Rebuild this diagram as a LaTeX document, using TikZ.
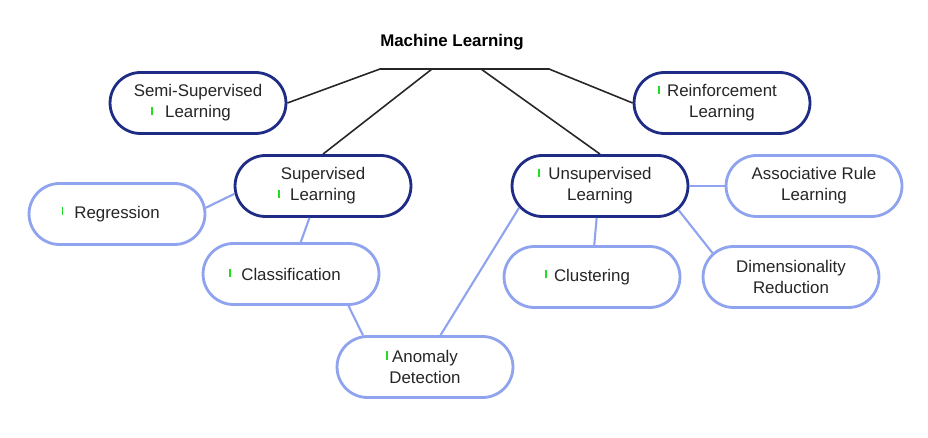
\documentclass[tikz,border=0pt]{standalone}
\usepackage{fontspec}
\setmainfont{Liberation Sans}
\usepackage{xcolor}
\usetikzlibrary{shapes.misc}
\definecolor{mlnavy}{HTML}{1F2C86}
\definecolor{mlblue}{HTML}{8FA3EE}
\definecolor{mlgreen}{HTML}{22DD22}
\newcommand{\gmark}[1]{\llap{\textcolor{mlgreen}{\rule[1.7pt]{1.1pt}{4.6pt}}\hspace{#1}}}

\begin{document}
\begin{tikzpicture}[
  x=0.02cm, y=-0.02cm,
  pill/.style={rounded rectangle, minimum width=3.66cm, minimum height=1.22cm, align=center, font=\fontsize{9.6}{12}\selectfont, text=black!85, line width=1.6pt, fill=white, inner sep=2pt},
  topbox/.style={pill, draw=mlnavy},
  subbox/.style={pill, draw=mlblue},
  tree/.style={line width=0.9pt, draw=black!85},
  link/.style={line width=1.2pt, draw=mlblue}
]
\useasboundingbox (0,0) rectangle (928,438);

% Title
\node[font=\fontsize{9.6}{12}\selectfont\bfseries] (ml) at (452,42) {Machine Learning};

% Main branches
\node[topbox] (semi) at (198,103) {Semi-Supervised\\\gmark{6.8pt}Learning};
\node[topbox] (rein) at (722,103) {\gmark{4pt}Reinforcement\\Learning};
\node[topbox] (sup) at (323,186) {Supervised\\\gmark{5.7pt}Learning};
\node[topbox] (unsup) at (600,186) {\gmark{5pt}Unsupervised\\Learning};

% Supervised tasks
\node[subbox] (reg) at (117,214) {\gmark{6.2pt}Regression};
\node[subbox] (cls) at (291,274) {\gmark{5.7pt}Classification};
\node[subbox] (anom) at (425,367) {\gmark{2.3pt}Anomaly\\Detection};

% Unsupervised tasks
\node[subbox] (clus) at (592,277) {\gmark{4pt}Clustering};
\node[subbox] (assoc) at (814,186) {Associative Rule\\Learning};
\node[subbox] (dim) at (791,277) {Dimensionality\\Reduction};

% Tree under the title
\coordinate (j1) at (380,69);
\coordinate (j2) at (432,69);
\coordinate (j3) at (481,69);
\coordinate (j4) at (549,69);
\draw[tree] (semi.east) -- (j1) -- (j4) -- (rein.west);
\draw[tree] (j2) -- (sup.north);
\draw[tree] (j3) -- (unsup.north);

% Links to tasks
\draw[link] (sup.185) -- (reg.4);
\draw[link] (sup.247) -- (cls.73);
\draw[link] (cls.331) -- (anom.153);
\draw[link] (unsup.195) -- (anom.64);
\draw[link] (unsup.264) -- (clus.86);
\draw[link] (unsup.east) -- (assoc.west);
\draw[link] (unsup.343) -- (dim.163);

\end{tikzpicture}
\end{document}
